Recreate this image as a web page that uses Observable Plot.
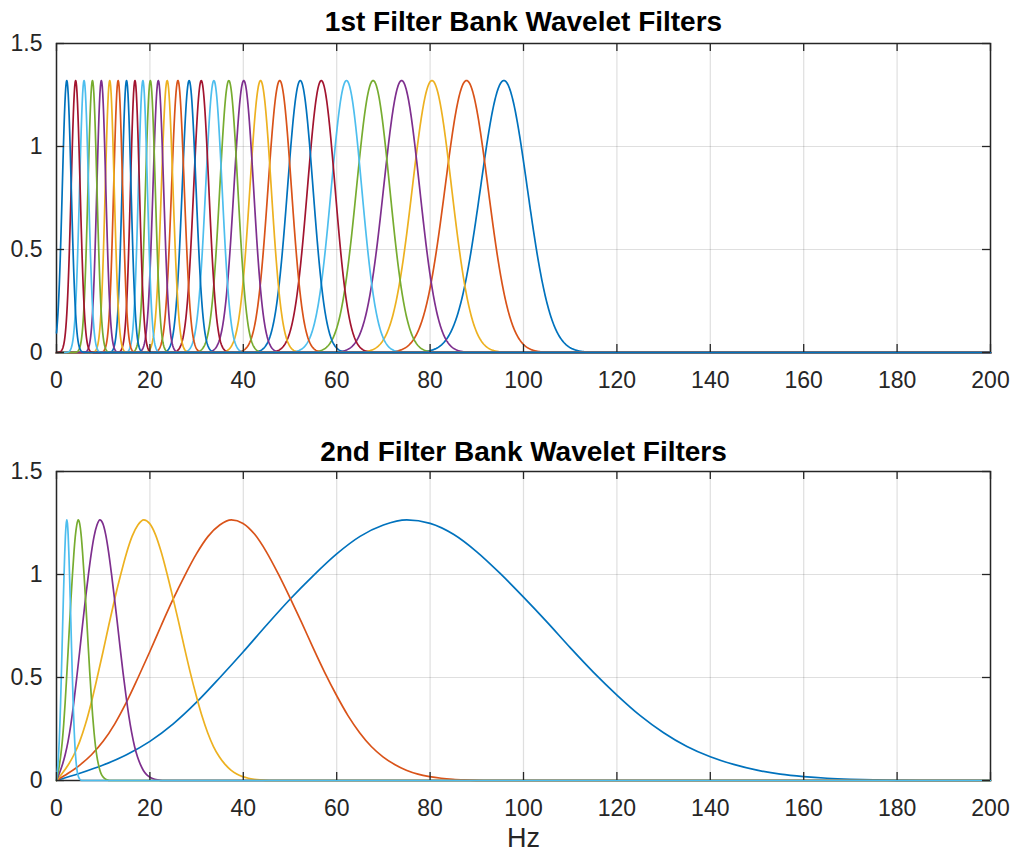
<!DOCTYPE html>
<html>
<head>
<meta charset="utf-8">
<script src="https://cdn.jsdelivr.net/npm/d3@7"></script>
<script src="https://cdn.jsdelivr.net/npm/@observablehq/plot@0.6"></script>
<style>
  html, body { margin: 0; padding: 0; background: #fff; }
  #chart svg { display: block; }
</style>
</head>
<body>
<div id="chart"></div>
<script>
// ---- data ----
const xTicks = [0, 20, 40, 60, 80, 100, 120, 140, 160, 180, 200];
const yTicks = [0, 0.5, 1, 1.5];
const lineColors = ["#0072BD", "#D95319", "#EDB120", "#7E2F8E", "#77AC30", "#4DBEEE", "#A2142F"];

// 1st filter bank: centre frequency (Hz) and Gaussian width (Hz), highest first (plot order)
const bank1Centers = [95.8, 87.8, 80.4, 73.9, 67.8, 62.1, 56.7, 52.2, 47.8, 43.7, 40.1, 36.9, 33.7, 31.0, 28.4,
                      26.0, 23.7, 21.8, 20.1, 18.5, 16.8, 15.0, 13.2, 11.4, 9.6, 7.7, 5.9, 4.1, 2.2];
const bank1Widths  = [5.0, 4.6, 4.2, 3.85, 3.55, 3.25, 2.95, 2.72, 2.5, 2.28, 2.1, 1.93, 1.76, 1.62, 1.48,
                      1.36, 1.24, 1.14, 1.05, 0.97, 0.96, 0.96, 0.96, 0.96, 0.96, 0.96, 0.96, 0.96, 0.96];
const bank1Peak = 1.32;

// 2nd filter bank: centre frequencies (Hz), highest first
const bank2Centers = [75.1, 37.5, 18.7, 9.3, 4.65, 2.2];
// shape of the 75.1 Hz filter (Hz, magnitude)
const bank2ShapeHz    = [0, 5, 10, 15, 20, 25, 30, 35, 40, 45, 50, 55, 60, 65, 70, 75, 80, 85, 90, 95,
                         100, 105, 110, 115, 120, 125, 130, 135, 140, 145, 150, 155, 160, 165, 170, 175, 180, 185];
const bank2ShapeValue = [0, 0.035, 0.075, 0.125, 0.19, 0.275, 0.38, 0.5, 0.625, 0.755, 0.88, 0.995, 1.1, 1.185, 1.24, 1.265, 1.248, 1.195, 1.11, 1.005,
                         0.89, 0.77, 0.645, 0.525, 0.415, 0.315, 0.232, 0.165, 0.115, 0.078, 0.05, 0.031, 0.019, 0.011, 0.006, 0.003, 0.001, 0];

// ---- build line tables ----
const freqGrid = d3.range(0, 2001).map(i => i / 10);
const bank1 = [];
bank1Centers.forEach((c, i) => {
  const s = bank1Widths[i];
  for (const f of freqGrid) {
    bank1.push({id: i, f, v: bank1Peak * Math.exp(-((f - c) ** 2) / (2 * s * s)), color: lineColors[i % 7]});
  }
});
const bank2 = [];
bank2Centers.forEach((c, i) => {
  const k = c / bank2Centers[0];
  bank2ShapeHz.forEach((h, j) => bank2.push({id: i, f: h * k, v: bank2ShapeValue[j], color: lineColors[i % 7]}));
  bank2.push({id: i, f: 200, v: 0, color: lineColors[i % 7]});
});

const W = 1014, H = 427, ML = 56, MR = 24, FH = 309;
const FW = W - ML - MR;
const ink = "#262626";
const font = "'Liberation Sans', Arial, Helvetica, sans-serif";

function panel(data, title, marginTop, titleDy, curve, xlabel) {
  const marks = [
    Plot.ruleX(xTicks, {x: d => d, stroke: ink, strokeOpacity: 0.15, strokeWidth: 1.2}),
    Plot.ruleY(yTicks, {y: d => d, stroke: ink, strokeOpacity: 0.15, strokeWidth: 1.2}),
    Plot.frame({stroke: ink, strokeWidth: 1.5}),
    Plot.line(data, {x: "f", y: "v", z: "id", stroke: "color", strokeWidth: 1.7, curve}),
    Plot.ruleX(xTicks, {x: d => d, insetTop: FH - 8, stroke: ink, strokeWidth: 1.3}),
    Plot.ruleX(xTicks, {x: d => d, insetBottom: FH - 8, stroke: ink, strokeWidth: 1.3}),
    Plot.ruleY(yTicks, {y: d => d, insetRight: FW - 8, stroke: ink, strokeWidth: 1.3}),
    Plot.ruleY(yTicks, {y: d => d, insetLeft: FW - 8, stroke: ink, strokeWidth: 1.3}),
    Plot.text(xTicks, {x: d => d, text: d => String(d), frameAnchor: "bottom", lineAnchor: "middle", dy: 28, fill: ink, fontSize: 23}),
    Plot.text(yTicks, {y: d => d, text: d => String(d), frameAnchor: "left", lineAnchor: "middle", dx: -14, textAnchor: "end", fill: ink, fontSize: 23}),
    Plot.text([title], {frameAnchor: "top", lineAnchor: "middle", dy: titleDy, fill: "#000", fontSize: 28, fontWeight: "bold"})
  ];
  if (xlabel) marks.push(Plot.text([xlabel], {frameAnchor: "bottom", lineAnchor: "middle", dy: 58, fill: ink, fontSize: 27}));
  return Plot.plot({
    width: W, height: H,
    marginLeft: ML, marginRight: MR, marginTop, marginBottom: H - marginTop - FH,
    x: {domain: [0, 200], axis: null},
    y: {domain: [0, 1.5], axis: null},
    style: {fontFamily: font, background: "#fff", overflow: "visible"},
    marks
  });
}

const el = document.getElementById("chart");
el.appendChild(panel(bank1, "1st Filter Bank Wavelet Filters", 43, -21, "linear", null));
el.appendChild(panel(bank2, "2nd Filter Bank Wavelet Filters", 44, -19, "monotone-x", "Hz"));
</script>
</body>
</html>
